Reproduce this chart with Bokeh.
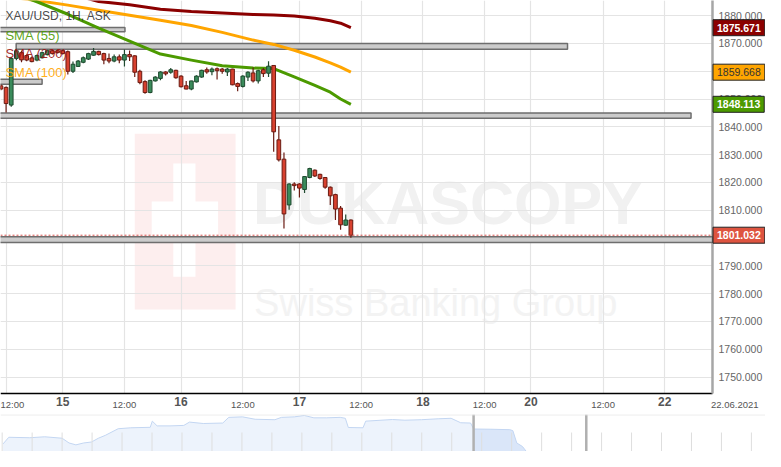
from bokeh.plotting import figure
from bokeh.models import (Range1d, FixedTicker, PrintfTickFormatter, Label, LinearAxis,
                          ColumnDataSource, Span, BoxAnnotation)
from bokeh.layouts import column
from bokeh.embed import file_html
from bokeh.resources import INLINE

FONT = "Liberation Sans"

# ---------------- data ----------------
# candle index: 0 = 14 Jun 12:00, 1H candles (trading hours only)
candle_idx = list(range(-1, 68))
opens = [1854.78, 1854.19, 1847.84, 1864.61, 1866.70, 1865.65, 1864.79, 1864.02, 1864.86, 1866.00,
         1867.39, 1867.39, 1867.39, 1867.04, 1859.99, 1861.73, 1863.22, 1864.37, 1865.76, 1867.15,
         1866.35, 1864.61, 1863.67, 1865.20, 1864.02, 1866.00, 1865.55, 1859.99, 1856.28, 1852.35,
         1856.52, 1857.42, 1859.75, 1859.65, 1860.34, 1858.26, 1854.78, 1853.60, 1856.17, 1857.91,
         1860.55, 1859.85, 1860.90, 1860.79, 1859.75, 1860.79, 1855.58, 1854.54, 1857.91, 1859.40,
         1856.52, 1860.55, 1859.30, 1862.08, 1835.33, 1828.39, 1811.92, 1819.46, 1819.46, 1817.48,
         1821.79, 1824.43, 1822.93, 1821.79, 1818.31, 1815.64, 1810.78, 1804.63, 1806.50]
highs = [1855.23, 1854.54, 1865.20, 1868.09, 1867.39, 1866.00, 1865.31, 1866.00, 1867.04, 1867.74,
         1867.74, 1867.74, 1867.74, 1867.50, 1863.47, 1864.09, 1865.31, 1866.70, 1868.33, 1867.39,
         1866.70, 1866.35, 1866.00, 1866.00, 1867.84, 1867.50, 1865.76, 1860.55, 1856.73, 1856.97,
         1858.19, 1859.99, 1859.99, 1861.14, 1860.55, 1858.54, 1856.52, 1856.63, 1858.54, 1860.55,
         1861.38, 1861.38, 1861.38, 1861.14, 1861.14, 1860.90, 1855.93, 1858.60, 1859.99, 1861.38,
         1860.55, 1861.14, 1863.57, 1862.29, 1840.30, 1830.82, 1819.70, 1820.05, 1819.70, 1822.34,
         1825.26, 1824.67, 1823.18, 1821.99, 1818.52, 1815.99, 1811.57, 1808.45, 1806.71]
lows = [1853.15, 1845.16, 1847.25, 1863.92, 1863.22, 1863.57, 1863.22, 1863.57, 1864.61, 1865.65,
        1866.00, 1866.35, 1866.00, 1858.81, 1859.40, 1861.49, 1862.88, 1864.09, 1865.55, 1865.65,
        1862.53, 1862.88, 1863.22, 1862.88, 1861.73, 1863.67, 1857.91, 1855.34, 1851.87, 1852.11,
        1856.28, 1856.73, 1858.46, 1859.06, 1857.32, 1854.19, 1853.50, 1853.15, 1855.93, 1857.67,
        1859.06, 1858.60, 1857.08, 1859.06, 1858.26, 1854.99, 1852.80, 1854.19, 1856.52, 1855.93,
        1855.58, 1857.91, 1857.91, 1831.02, 1827.55, 1803.48, 1810.18, 1817.13, 1814.60, 1816.23,
        1821.54, 1821.99, 1820.95, 1817.72, 1811.92, 1806.50, 1803.03, 1804.42, 1800.11]
closes = [1853.60, 1848.39, 1864.61, 1867.39, 1864.09, 1864.02, 1863.47, 1865.65, 1866.70, 1867.39,
          1866.35, 1866.70, 1866.35, 1859.99, 1862.53, 1863.67, 1864.86, 1866.35, 1867.15, 1866.00,
          1864.02, 1863.67, 1865.20, 1864.02, 1866.00, 1865.20, 1859.65, 1855.93, 1852.35, 1856.73,
          1857.91, 1859.75, 1859.06, 1860.55, 1857.67, 1854.44, 1853.60, 1856.52, 1858.26, 1860.34,
          1859.75, 1860.79, 1860.20, 1859.99, 1860.79, 1855.13, 1854.54, 1858.26, 1859.65, 1856.52,
          1860.20, 1859.16, 1861.83, 1838.22, 1828.14, 1808.69, 1819.46, 1818.87, 1817.97, 1822.13,
          1825.02, 1822.34, 1821.44, 1818.31, 1815.19, 1810.43, 1804.77, 1806.50, 1801.03]

sma_idx = [0, 6, 12, 18, 24, 30, 36, 42, 48, 52, 56, 60, 63, 65, 67]
sma55 = [1889.0, 1885.0, 1880.5, 1875.5, 1870.87, 1866.18, 1864.0, 1862.0, 1861.14, 1860.97,
         1858.01, 1854.89, 1852.46, 1850.03, 1848.11]
sma100 = [1886.84, 1885.45, 1883.79, 1881.98, 1880.17, 1878.33, 1876.49, 1873.99, 1871.21, 1869.65,
          1867.56, 1865.13, 1863.05, 1861.49, 1859.67]
sma200 = [1891.0, 1889.5, 1888.0, 1885.11, 1883.89, 1882.33, 1881.46, 1880.94, 1880.42, 1880.24,
          1879.90, 1879.03, 1878.16, 1877.29, 1875.67]

# support / resistance zones (candle index start/end, price top/bottom)
zone_left = [-3, 1.96, -3, -3, -3]
zone_right = [23.1, 109.1, 7.0, 133.1, 137.27]
zone_top = [1875.73, 1870.00, 1857.10, 1844.99, 1800.45]
zone_bottom = [1874.20, 1867.91, 1855.30, 1843.08, 1798.40]

current_price = 1801.032
tag_values = [1875.671, 1859.668, 1848.113, 1801.032]
tag_bg = ["#8b0000", "#ffa500", "#4c9a00", "#de5440"]
tag_fg = ["#ffffff", "#333333", "#ffffff", "#ffffff"]
tag_style = ["bold", "normal", "bold", "bold"]

y_ticks = [1750, 1760, 1770, 1780, 1790, 1800, 1810, 1820, 1830, 1840, 1850, 1860, 1870, 1880]
x_ticks = [0, 11, 23, 34, 46, 57, 69, 81, 93, 102, 116, 128, 141.6]
x_tick_labels = ["12:00", "15", "12:00", "16", "12:00", "17", "12:00", "18", "12:00", "20", "12:00", "22",
                 "22.06.2021"]

legend_texts = ["XAU/USD, 1H, ASK", "SMA (55)", "SMA (200)", "SMA (100)"]
legend_colors = ["#333333", "#4c9a00", "#9b1111", "#ffa500"]
legend_prices = [1879.9, 1872.95, 1866.35, 1859.40]

# navigator (long history overview)
nav_day = [0.03, 0.22, 0.92, 1.42, 2.0, 2.23, 2.46, 2.72, 2.98, 3.21, 3.44, 3.87, 4.29, 4.94, 5.01,
           5.17, 5.60, 6.06, 6.25, 6.71, 7.36, 7.56, 8.02, 8.44, 9.10, 9.32, 9.75, 10.08, 10.40, 10.83,
           11.28, 11.45, 11.55, 12.04, 12.13, 13.02, 13.44, 13.99, 14.55, 14.98, 15.30, 15.63, 15.73,
           16.28, 16.94, 17.04, 17.17, 17.36, 17.49]
nav_level = [8, 15, 14.5, 15.5, 14, 9, 7, 9, 10, 14, 17, 24, 25, 25.5, 32, 27, 27, 27.5, 31, 29.5,
             30, 36, 36.5, 34, 33.5, 36, 36.5, 38, 35.5, 35.5, 36, 35, 25.3, 25, 32, 33.7, 33, 33.5,
             34.5, 35, 30.3, 30, 23.7, 23.5, 23, 22, 9, 5.3, 0]
nav_ticks = list(range(0, 26))
sel_start, sel_end = 15.73, 19.49

# ---------------- layout constants ----------------
W, H_MAIN, H_NAV = 765, 414, 37
X_START, X_END, PLOT_END = -1.084, 147.57, 137.27      # PLOT_END: right edge of the price area
Y_TOP, Y_BOTTOM, PLOT_BOTTOM = 1885.45, 1736.55, 1744.1  # PLOT_BOTTOM: lower edge of the price area
px_x = (X_END - X_START) / W
px_y = (Y_TOP - Y_BOTTOM) / H_MAIN

p = figure(width=W, height=H_MAIN, x_range=Range1d(X_START, X_END), y_range=Range1d(Y_BOTTOM, Y_TOP),
           y_axis_location="right", toolbar_location=None, output_backend="svg", tools="",
           min_border=0)
p.outline_line_color = None
p.background_fill_color = "white"
p.border_fill_color = "white"

# watermark
p.add_layout(BoxAnnotation(left=25.0, right=44.6, top=1837.5, bottom=1774.3, fill_color="#fdeeee",
                           fill_alpha=1, line_color=None, level="image"))
p.add_layout(BoxAnnotation(left=32.5, right=36.8, top=1826.8, bottom=1786.1, fill_color="white",
                           fill_alpha=1, line_color=None, level="image"))
p.add_layout(BoxAnnotation(left=28.3, right=41.2, top=1813.2, bottom=1799.9, fill_color="white",
                           fill_alpha=1, line_color=None, level="image"))
p.add_layout(Label(x=48.0, y=1812.6, text="DUKASCOPY", text_font=FONT, text_font_style="bold",
                   text_font_size="61px", text_color="#f1f1f1", text_baseline="alphabetic",
                   level="image"))
p.add_layout(Label(x=48.2, y=1776.7, text="Swiss Banking Group", text_font=FONT,
                   text_font_size="38px", text_color="#f3f3f3", text_baseline="alphabetic",
                   level="image"))

# grid
p.xgrid.ticker = FixedTicker(ticks=[t for t, lab in zip(x_ticks, x_tick_labels) if "." not in lab])
p.grid.grid_line_color = "#e4e4e4"
p.grid.grid_line_width = 1.2

# blank strips under the price scale and the time scale
p.quad(left=[PLOT_END, X_START - 5], right=[X_END + 5, X_END + 5], top=[Y_TOP + 10, PLOT_BOTTOM],
       bottom=[Y_BOTTOM - 10, Y_BOTTOM - 10], fill_color="white", line_color=None)
# frame lines: black time axis line, grey price axis line
p.segment(x0=[X_START], y0=[PLOT_BOTTOM], x1=[PLOT_END], y1=[PLOT_BOTTOM], line_color="black",
          line_width=1.5)
p.segment(x0=[PLOT_END], y0=[PLOT_BOTTOM], x1=[PLOT_END], y1=[Y_TOP + 10], line_color="#a6a6a6",
          line_width=2.5)

# x axis: bold day labels, drawn into the strip under the price area
axis_anchor_y = Y_TOP - 436.5 * px_y
xa = p.xaxis[0]
xa.fixed_location = axis_anchor_y
xa.ticker = FixedTicker(ticks=[t for t, lab in zip(x_ticks, x_tick_labels) if lab.isdigit()])
xa.major_label_overrides = {t: lab for t, lab in zip(x_ticks, x_tick_labels) if lab.isdigit()}
xa.axis_line_color = None
xa.major_tick_line_color = None
xa.minor_tick_line_color = None
xa.major_tick_out = 0
xa.major_tick_in = 0
xa.major_label_text_font = FONT
xa.major_label_text_font_size = "12px"
xa.major_label_text_font_style = "bold"
xa.major_label_text_color = "#555555"
xa.major_label_standoff = -40

# x axis: 12:00 and date labels
xb = LinearAxis(fixed_location=axis_anchor_y,
                ticker=FixedTicker(ticks=[t for t, lab in zip(x_ticks, x_tick_labels) if not lab.isdigit()]),
                major_label_overrides={t: lab for t, lab in zip(x_ticks, x_tick_labels) if not lab.isdigit()},
                axis_line_color=None, major_tick_line_color=None, minor_tick_line_color=None,
                major_tick_out=0, major_tick_in=0, major_label_text_font=FONT,
                major_label_text_font_size="9.5px", major_label_text_color="#555555",
                major_label_standoff=-38)
p.add_layout(xb, "below")

# y axis: labels drawn into the strip right of the price area
p.yaxis.fixed_location = X_START + 778 * px_x
p.yaxis.ticker = FixedTicker(ticks=y_ticks)
p.yaxis.formatter = PrintfTickFormatter(format="%.3f")
p.yaxis.axis_line_color = None
p.yaxis.major_tick_line_color = None
p.yaxis.minor_tick_line_color = None
p.yaxis.major_tick_out = 0
p.yaxis.major_tick_in = 0
p.yaxis.major_label_text_font = FONT
p.yaxis.major_label_text_font_size = "10.5px"
p.yaxis.major_label_text_color = "#666666"
p.yaxis.major_label_standoff = -60

# zones
p.quad(left=zone_left, right=zone_right, top=zone_top, bottom=zone_bottom,
       fill_color="#cbcbcb", line_color="#6e6e6e", line_width=1.5)

# SMA lines
p.line(sma_idx, sma200, line_color="#8b0000", line_width=3, line_join="round")
p.line(sma_idx, sma100, line_color="#ffa500", line_width=3, line_join="round")
p.line(sma_idx, sma55, line_color="#4c9a00", line_width=3, line_join="round")

# candles
up = [c >= o for o, c in zip(opens, closes)]
src = ColumnDataSource(dict(
    x=candle_idx, h=highs, l=lows,
    top=[max(o, c) for o, c in zip(opens, closes)],
    bottom=[min(o, c) for o, c in zip(opens, closes)],
    fill=["#3a8b5b" if u else "#d8412f" for u in up],
    edge=["#1f4a2f" if u else "#6a1b12" for u in up],
))
p.segment(x0="x", y0="h", x1="x", y1="l", line_color="edge", line_width=1.2, source=src)
p.vbar(x="x", top="top", bottom="bottom", width=0.72, fill_color="fill", line_color="edge",
       line_width=1, source=src)

# current price dotted line
p.add_layout(Span(location=current_price, dimension="width", line_color="#d9534f",
                  line_dash="2 2", line_width=1))

# legend texts
for k, (t, c, yv) in enumerate(zip(legend_texts, legend_colors, legend_prices)):
    p.add_layout(Label(x=-0.13, y=yv, text=t, text_font=FONT,
                       text_font_size="12px" if k == 0 else "13px",
                       text_color=c, text_baseline="middle", text_alpha=0.9))

# price tags on the scale
for v, bg, fg, st in zip(tag_values, tag_bg, tag_fg, tag_style):
    p.add_layout(Label(x=PLOT_END + 0.1, y=v, text=f"{v:.3f}",
                       text_font=FONT, text_font_size="10.5px", text_font_style=st, text_color=fg,
                       text_baseline="middle", text_align="left", background_fill_color=bg,
                       border_line_color="#222222", border_line_width=1, padding=4))

# ---------------- navigator ----------------
nav = figure(width=W, height=H_NAV, x_range=Range1d(-0.056, 25.47), y_range=Range1d(0, 39),
             toolbar_location=None, output_backend="svg", tools="",
             x_axis_location=None, y_axis_location=None, min_border=0)
nav.outline_line_color = None
nav.grid.visible = False
nav.varea(x=nav_day, y1=0, y2=nav_level, fill_color="#edf3fc")
sel_x = [d for d in nav_day if sel_start <= d <= sel_end]
sel_y = [l for d, l in zip(nav_day, nav_level) if sel_start <= d <= sel_end]
nav.varea(x=sel_x, y1=0, y2=sel_y, fill_color="#dae6f9")
nav.line(nav_day, nav_level, line_color="#c3d6f2", line_width=1)
nav.segment(x0=nav_ticks, y0=0, x1=nav_ticks, y1=20, line_color="#dedede", line_width=1)
for s in (sel_start, sel_end):
    nav.add_layout(Span(location=s, dimension="height", line_color="#b0b0b0", line_width=2.5))
nav.add_layout(Span(location=38.6, dimension="width", line_color="#e4e4e4", line_width=1))

layout = column(p, nav, spacing=0)
open("out.html", "w").write(file_html(layout, INLINE))
